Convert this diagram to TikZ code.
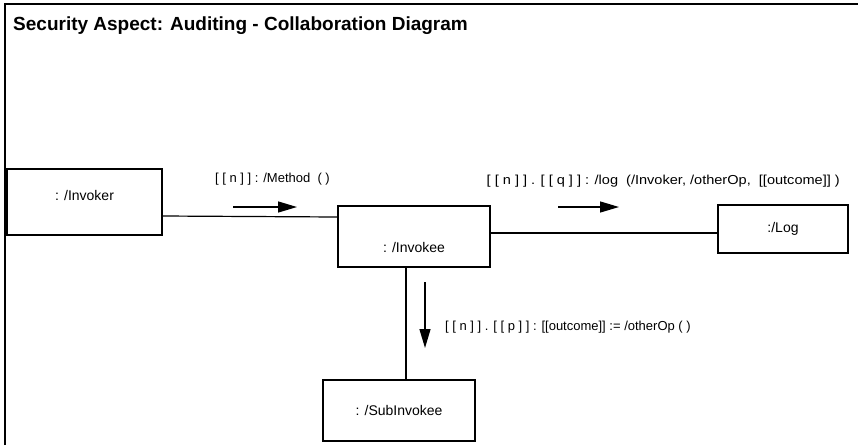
\documentclass[tikz,border=0pt]{standalone}
\usepackage{fontspec}
\setmainfont{Liberation Sans}
\usetikzlibrary{arrows.meta}
\begin{document}
\begin{tikzpicture}[x=1pt,y=-1pt,
  objfont/.style={font=\fontsize{14}{16}\selectfont},
  obj/.style={draw, line width=1.3pt, inner sep=0pt, objfont},
  conn/.style={line width=1.2pt},
  msgarrow/.style={line width=1.3pt, -{Triangle[length=19pt,width=11pt]}},
  msg/.style={inner sep=0pt, font=\fontsize{13}{15}\selectfont}]
\useasboundingbox (0,0) rectangle (858,445);
\draw[line width=1.8pt] (5,445) -- (5,4) -- (858,4);
\node[anchor=base west, inner sep=0pt, font=\bfseries\fontsize{19}{22}\selectfont] (title) at (13,30) {Security Aspect: Auditing - Collaboration Diagram};

\node[obj, minimum width=155pt, minimum height=66pt, label={[yshift=7pt, objfont]center:: /Invoker}] (invoker) at (84.5,202) {};
\node[obj, minimum width=152pt, minimum height=61pt, label={[yshift=-11pt, objfont]center:: /Invokee}] (invokee) at (414,236.5) {};
\node[obj, minimum width=130pt, minimum height=48pt] (log) at (783,229) {:/Log};
\node[obj, minimum width=152pt, minimum height=61pt] (sub) at (399,410.5) {: /SubInvokee};

\draw[conn] ([yshift=-14pt]invoker.east) -- ([yshift=19.5pt]invokee.west);
\draw[conn] ([yshift=3.5pt]invokee.east) -- ([yshift=-4pt]log.west);
\draw[conn] ([xshift=-8pt]invokee.south) -- ([xshift=7pt]sub.north);

\coordinate (a1s) at (233,207); \coordinate (a1e) at (297,207);
\coordinate (a2s) at (558,207); \coordinate (a2e) at (619,207);
\coordinate (a3s) at (425,282); \coordinate (a3e) at (425,348);
\draw[msgarrow] (a1s) -- (a1e);
\draw[msgarrow] (a2s) -- (a2e);
\draw[msgarrow] (a3s) -- (a3e);

\node[msg, anchor=base east] (m1) at (330,182) {[ [ n ] ] : /Method \ ( )};
\node[msg, anchor=base east] (m2) at (840,184) {\scalebox{1.12}[1]{[ [ n ] ] . [ [ q ] ] : /log \ (/Invoker, /otherOp, \ [[outcome]] )}};
\node[msg, anchor=base west] (m3) at (445,330) {[ [ n ] ] . [ [ p ] ] : [[outcome]] := /otherOp ( )};
\end{tikzpicture}
\end{document}
